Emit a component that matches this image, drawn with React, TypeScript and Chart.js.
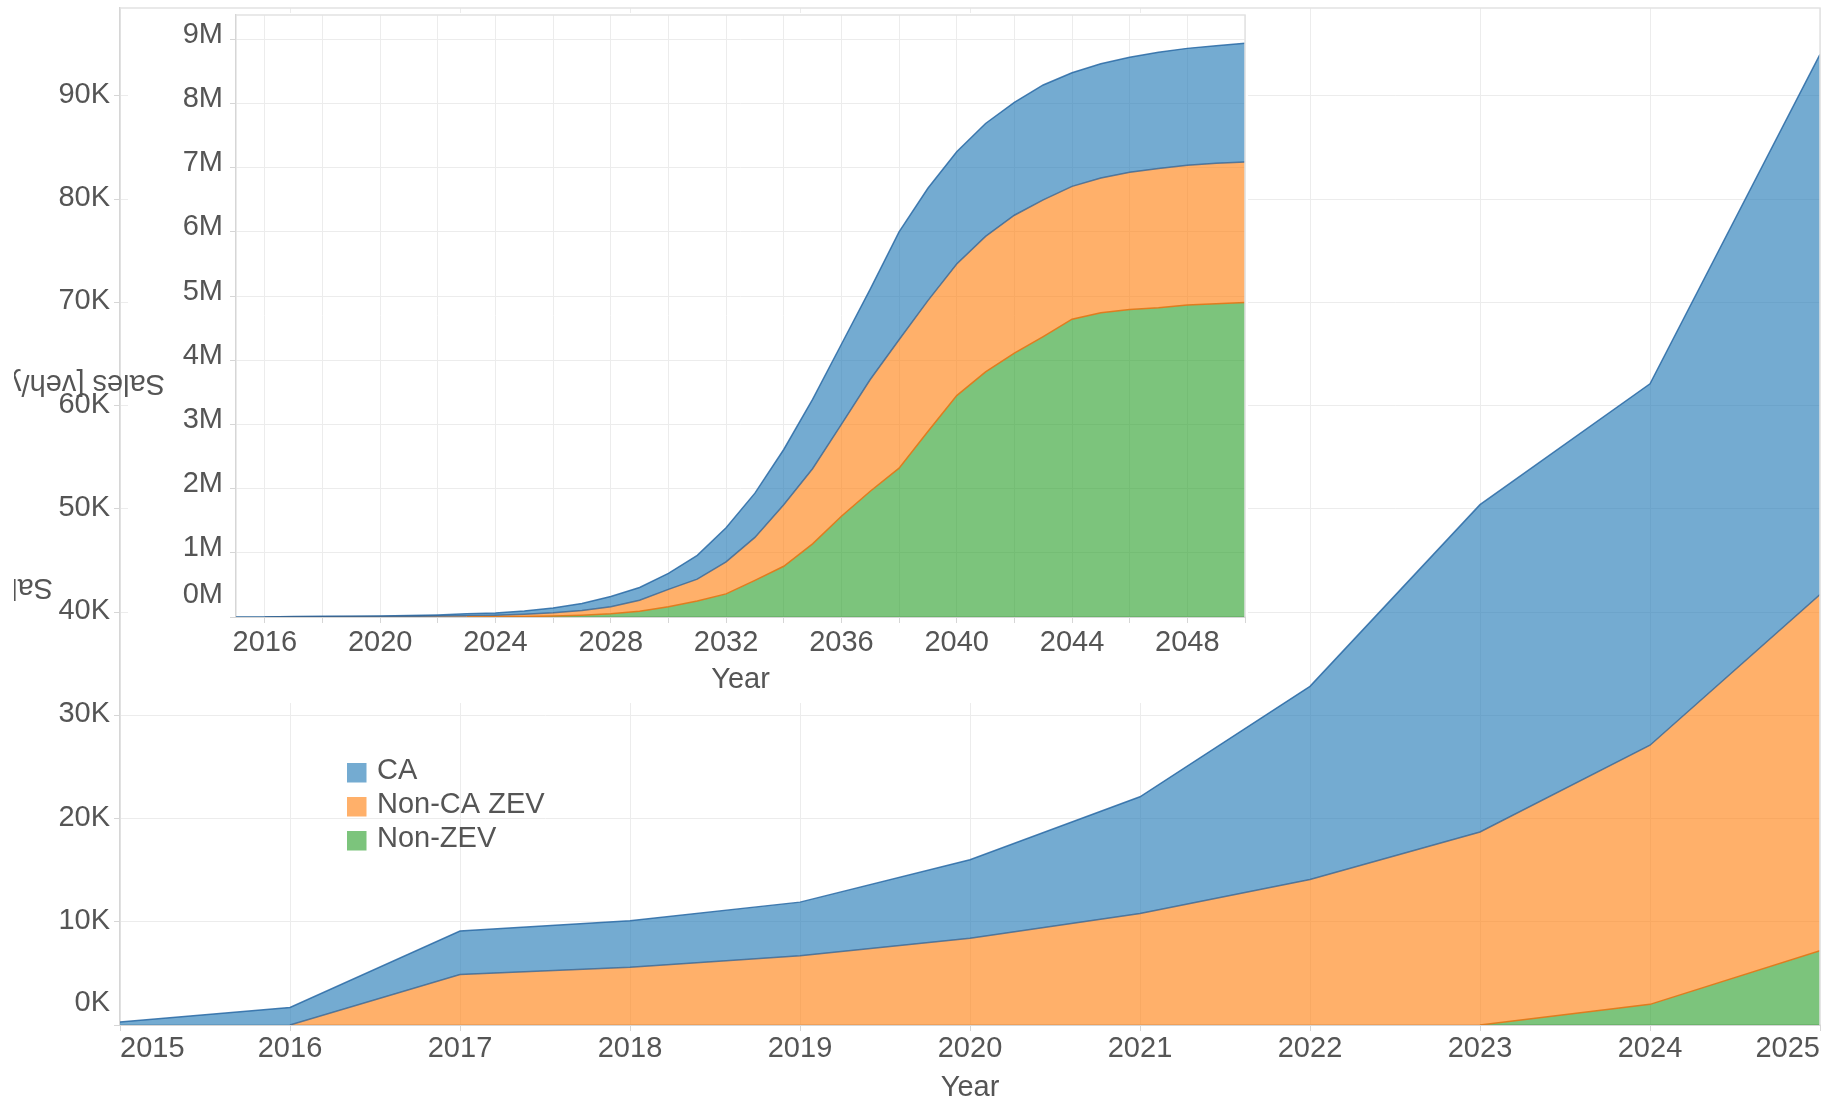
import React, { useEffect, useRef } from 'react';
import { Chart, registerables } from 'chart.js';

Chart.register(...registerables);

// ---------------- data ----------------
const years = [
  2015, 2016, 2017, 2018, 2019, 2020, 2021, 2022, 2023, 2024, 2025, 2026,
  2027, 2028, 2029, 2030, 2031, 2032, 2033, 2034, 2035, 2036, 2037, 2038,
  2039, 2040, 2041, 2042, 2043, 2044, 2045, 2046, 2047, 2048, 2049, 2050,
];
// vehicles per year
const caSales = [
  300, 1700, 4200, 4500, 5200, 7600, 11300, 18700, 31700, 35000, 52300, 75000,
  110000, 160000, 200000, 250000, 370000, 530000, 690000, 860000, 1080000, 1250000, 1410000, 1680000,
  1750000, 1750000, 1760000, 1760000, 1790000, 1770000, 1780000, 1790000, 1810000, 1820000, 1830000, 1850000,
];
const nonCaZevSales = [
  0, 0, 4900, 5600, 6700, 8400, 10800, 14100, 18700, 25100, 34500, 50000,
  72000, 110000, 170000, 270000, 340000, 500000, 670000, 960000, 1170000, 1430000, 1740000, 2000000,
  2040000, 2050000, 2110000, 2150000, 2130000, 2070000, 2100000, 2140000, 2170000, 2180000, 2190000, 2190000,
];
const nonZevSales = [
  0, 0, 0, 0, 0, 0, 0, 0, 0, 2000, 7200, 15000,
  28000, 50000, 90000, 160000, 250000, 360000, 570000, 790000, 1140000, 1570000, 1960000, 2320000,
  2890000, 3450000, 3820000, 4110000, 4370000, 4640000, 4740000, 4790000, 4820000, 4860000, 4880000, 4900000,
];
const seriesNames = ['CA', 'Non-CA ZEV', 'Non-ZEV'];
const mainEndYear = 2025;
const mainXTicks = [2015, 2016, 2017, 2018, 2019, 2020, 2021, 2022, 2023, 2024, 2025];
const mainYTicks = [0, 10000, 20000, 30000, 40000, 50000, 60000, 70000, 80000, 90000];
const insetXTicks = [2016, 2018, 2020, 2022, 2024, 2026, 2028, 2030, 2032, 2034, 2036, 2038, 2040, 2042, 2044, 2046, 2048, 2050];
const insetXLabelYears = [2016, 2020, 2024, 2028, 2032, 2036, 2040, 2044, 2048];
const insetYTicks = [0, 1e6, 2e6, 3e6, 4e6, 5e6, 6e6, 7e6, 8e6, 9e6];
const yTitle = 'Sales [veh/yr]';
const xTitle = 'Year';

// ---------------- style ----------------
const W = 1837;
const H = 1102;
const FONT = '"Liberation Sans", Arial, sans-serif';
const TEXT = '#555555';
const GRID = '#ececec';
const AXIS = '#d6d6d6';
const FRAME = '#e2e2e2';
const BLUE_FILL = 'rgba(31,119,180,0.62)';
const ORANGE_FILL = 'rgba(255,127,14,0.62)';
const GREEN_FILL = 'rgba(44,160,44,0.62)';
const BLUE_EDGE = 'rgba(40,105,165,0.85)';
const ORANGE_EDGE_ON_BLUE = 'rgba(45,95,145,0.75)';
const GREEN_EDGE_ON_ORANGE = 'rgba(225,120,25,0.95)';

function buildDatasets(lastYear: number) {
  const idx = years.map((_, i) => i).filter((i) => years[i] <= lastYear);
  const pts = (arr: number[]) => idx.map((i) => ({ x: years[i], y: arr[i] }));
  const seg = (color: string) => ({
    borderColor: (c: any) => (c.p0.parsed.y === 0 && c.p1.parsed.y === 0 ? 'rgba(0,0,0,0)' : color),
  });
  return [
    {
      label: seriesNames[2], data: pts(nonZevSales), fill: 'origin',
      backgroundColor: GREEN_FILL, borderColor: GREEN_EDGE_ON_ORANGE, segment: seg(GREEN_EDGE_ON_ORANGE),
      borderWidth: 1.5, pointRadius: 0, tension: 0,
    },
    {
      label: seriesNames[1], data: pts(nonCaZevSales), fill: '-1',
      backgroundColor: ORANGE_FILL, borderColor: ORANGE_EDGE_ON_BLUE, segment: seg(ORANGE_EDGE_ON_BLUE),
      borderWidth: 1.5, pointRadius: 0, tension: 0,
    },
    {
      label: seriesNames[0], data: pts(caSales), fill: '-1',
      backgroundColor: BLUE_FILL, borderColor: BLUE_EDGE,
      borderWidth: 1.5, pointRadius: 0, tension: 0,
    },
  ];
}

function drawFrame(chart: any) {
  const { ctx, chartArea: a } = chart;
  ctx.save();
  ctx.strokeStyle = FRAME;
  ctx.lineWidth = 1.5;
  ctx.beginPath();
  ctx.moveTo(a.left, a.top);
  ctx.lineTo(a.right, a.top);
  ctx.lineTo(a.right, a.bottom);
  ctx.stroke();
  ctx.restore();
}

function drawFlippedTitle(chart: any, x: number, y: number) {
  const ctx = chart.ctx;
  ctx.save();
  ctx.beginPath();
  ctx.rect(14, 0, W, H);
  ctx.clip();
  ctx.translate(x, y);
  ctx.rotate(Math.PI);
  ctx.font = `29px ${FONT}`;
  ctx.fillStyle = TEXT;
  ctx.textAlign = 'left';
  ctx.textBaseline = 'middle';
  ctx.fillText(yTitle, 0, 0);
  ctx.restore();
}

const mainDecor = {
  id: 'mainDecor',
  afterDatasetsDraw(chart: any) {
    drawFrame(chart);
  },
  afterDraw(chart: any) {
    const ctx = chart.ctx;
    const ds = [...chart.data.datasets].reverse();
    ctx.save();
    ctx.font = `29px ${FONT}`;
    ctx.textAlign = 'left';
    ctx.textBaseline = 'middle';
    ds.forEach((d: any, i: number) => {
      const top = 763 + i * 34;
      ctx.fillStyle = d.backgroundColor;
      ctx.fillRect(347, top, 19.5, 19.5);
      ctx.fillStyle = TEXT;
      ctx.fillText(d.label, 377, top + 7.5);
    });
    ctx.restore();
    drawFlippedTitle(chart, 53, 587);
  },
};

const insetDecor = {
  id: 'insetDecor',
  beforeDraw(chart: any) {
    const ctx = chart.ctx;
    ctx.save();
    ctx.fillStyle = '#ffffff';
    ctx.fillRect(128, 13, 1248 - 128, 703 - 13);
    ctx.restore();
  },
  afterDatasetsDraw(chart: any) {
    drawFrame(chart);
  },
  afterDraw(chart: any) {
    drawFlippedTitle(chart, 165, 383);
  },
};

function axisX(min: number, max: number, tickVals: number[], labelFn: (v: number) => string, align: string, pad: number) {
  return {
    type: 'linear',
    min,
    max,
    afterBuildTicks: (s: any) => { s.ticks = tickVals.map((v) => ({ value: v })); },
    afterFit: (s: any) => {
      s.height = 77;
      s.paddingLeft = 0;
      s.paddingRight = 0;
      s.paddingTop = 0;
      s.paddingBottom = 0;
    },
    grid: { color: GRID, lineWidth: 1, tickLength: 6, tickColor: AXIS, drawTicks: true },
    border: { color: AXIS, width: 2 },
    ticks: {
      align,
      autoSkip: false,
      maxRotation: 0,
      minRotation: 0,
      padding: pad,
      color: TEXT,
      font: { family: FONT, size: 29, lineHeight: 1 },
      callback: (v: any) => labelFn(Number(v)),
    },
    title: { display: true, text: xTitle, color: TEXT, padding: 0, font: { family: FONT, size: 29, lineHeight: 1 } },
  };
}

function axisY(
  max: number, tickVals: number[], width: number, pad: number,
  labelOffset: number, lineHeight: number, labelFn: (v: number) => any,
) {
  return {
    type: 'linear',
    stacked: true,
    min: 0,
    max,
    afterBuildTicks: (s: any) => { s.ticks = tickVals.map((v) => ({ value: v })); },
    afterFit: (s: any) => {
      s.width = width;
      s.paddingLeft = 0;
      s.paddingRight = 0;
      s.paddingTop = 0;
      s.paddingBottom = 0;
    },
    grid: { color: GRID, lineWidth: 1, tickLength: 6, tickColor: AXIS, drawTicks: true },
    border: { color: AXIS, width: 1.5 },
    ticks: {
      autoSkip: false,
      padding: pad,
      labelOffset,
      color: TEXT,
      font: { family: FONT, size: 29, lineHeight },
      callback: (v: any) => labelFn(Number(v)),
    },
  };
}

function mainConfig(): any {
  return {
    type: 'line',
    data: { datasets: buildDatasets(mainEndYear) },
    options: {
      responsive: false,
      animation: false,
      devicePixelRatio: 1,
      events: [],
      layout: { padding: { left: 0, top: 8, right: 17, bottom: 0 } },
      plugins: { legend: { display: false }, tooltip: { enabled: false } },
      scales: {
        x: axisX(2015, 2025, mainXTicks, (v) => String(v), 'inner', 3),
        y: axisY(98500, mainYTicks, 120, 4, -1, 1.45, (v) => (v === 0 ? ['0K', ''] : `${Math.round(v / 1000)}K`)),
      },
    },
    plugins: [mainDecor],
  };
}

function insetConfig(): any {
  return {
    type: 'line',
    data: { datasets: buildDatasets(2050) },
    options: {
      responsive: false,
      animation: false,
      devicePixelRatio: 1,
      events: [],
      layout: { padding: { left: 0, top: 15, right: 592, bottom: 408 } },
      plugins: { legend: { display: false }, tooltip: { enabled: false } },
      scales: {
        x: axisX(2015, 2050, insetXTicks, (v) => (insetXLabelYears.includes(v) ? String(v) : ''), 'center', 5.5),
        y: axisY(9.38e6, insetYTicks, 236, 7, -4.5, 1.2, (v) => (v === 0 ? ['0M', ''] : `${Math.round(v / 1e6)}M`)),
      },
    },
    plugins: [insetDecor],
  };
}

export default function App() {
  const mainRef = useRef<HTMLCanvasElement>(null);
  const insetRef = useRef<HTMLCanvasElement>(null);

  useEffect(() => {
    document.body.style.margin = '0';
    document.body.style.overflow = 'hidden';
    const main = new Chart(mainRef.current as HTMLCanvasElement, mainConfig());
    const inset = new Chart(insetRef.current as HTMLCanvasElement, insetConfig());
    return () => {
      main.destroy();
      inset.destroy();
    };
  }, []);

  return (
    <div style={{ position: 'relative', width: W, height: H, background: '#ffffff', overflow: 'hidden' }}>
      <canvas ref={mainRef} width={W} height={H} style={{ position: 'absolute', left: 0, top: 0 }} />
      <canvas ref={insetRef} width={W} height={H} style={{ position: 'absolute', left: 0, top: 0 }} />
    </div>
  );
}
